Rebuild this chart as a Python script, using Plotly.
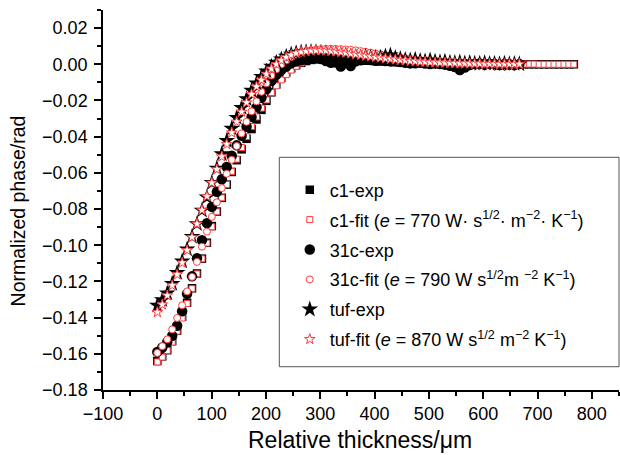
import plotly.graph_objects as go

# Relative thickness positions (µm)
THICKNESS = [0, 9.1, 18.3, 27.4, 36.5, 45.7, 54.8, 63.9, 73.0, 82.2, 91.3, 100.4, 109.6, 118.7,
             127.8, 137.0, 146.1, 155.2, 164.3, 173.5, 182.6, 191.7, 200.9, 210.0, 219.1, 228.3,
             237.4, 246.5, 255.6, 264.8, 273.9, 283.0, 292.2, 301.3, 310.4, 319.6, 328.7, 337.8,
             346.9, 356.1, 365.2, 374.3, 383.5, 392.6, 401.7, 410.9, 420.0, 429.1, 438.2, 447.4,
             456.5, 465.6, 474.8, 483.9, 493.0, 502.2, 511.3, 520.4, 529.5, 538.7, 547.8, 556.9,
             566.1, 575.2, 584.3, 593.5, 602.6, 611.7, 620.8, 630.0, 639.1, 648.2, 657.4, 666.5,
             675.6, 684.8, 693.9, 703.0, 712.1, 721.3, 730.4, 739.5, 748.7, 757.8, 766.9]

c1_exp = [-0.164, -0.1614, -0.158, -0.153, -0.1472, -0.1395, -0.1318, -0.1238, -0.1156, -0.1074,
          -0.0986, -0.0894, -0.0814, -0.0738, -0.0665, -0.0595, -0.053, -0.047, -0.0412, -0.0358,
          -0.0305, -0.0252, -0.0202, -0.0155, -0.0112, -0.0075, -0.0045, -0.0022, -0.0005, 0.0008,
          0.0018, 0.0024, 0.0028, 0.0032, 0.0035, 0.0034, 0.0032, 0.003, 0.0027, 0.0026, 0.0023,
          0.0021, 0.0022, 0.002, 0.0018, 0.0016, 0.0017, 0.0014, 0.0012, 0.0011, 0.0012, 0.0009,
          0.0008, 0.0007, 0.0006, 0.0007, 0.0005, 0.0004, 0.0003, 0.0002, 0.0001, -0.0003, 0.0,
          0.0002, 0.0001, 0.0, 0.0001, 0.0, 0.0, 0.0001, 0.0, 0.0, 0.0, 0.0, 0.0, 0.0, 0.0, 0.0,
          0.0, 0.0, 0.0, 0.0, 0.0, 0.0, 0.0]

c1_fit = [-0.1645, -0.1618, -0.1582, -0.1535, -0.1475, -0.1402, -0.1322, -0.124, -0.1158, -0.1075,
          -0.0988, -0.0898, -0.0815, -0.0738, -0.0664, -0.0592, -0.0524, -0.046, -0.04, -0.0344,
          -0.0291, -0.0242, -0.0197, -0.0156, -0.0119, -0.0086, -0.0057, -0.0032, -0.0011, 0.0007,
          0.0022, 0.0035, 0.0045, 0.0054, 0.006, 0.0065, 0.0068, 0.007, 0.007, 0.0069, 0.0067,
          0.0064, 0.006, 0.0056, 0.0052, 0.0048, 0.0044, 0.004, 0.0036, 0.0032, 0.0029, 0.0026,
          0.0023, 0.002, 0.0018, 0.0016, 0.0014, 0.0012, 0.0011, 0.0009, 0.0008, 0.0007, 0.0006,
          0.0005, 0.0004, 0.0004, 0.0003, 0.0003, 0.0002, 0.0002, 0.0002, 0.0001, 0.0001, 0.0001,
          0.0001, 0.0001, 0.0001, 0.0, 0.0, 0.0, 0.0, 0.0, 0.0, 0.0, 0.0]

c31_exp = [-0.159, -0.1565, -0.1535, -0.15, -0.1445, -0.1365, -0.1268, -0.1172, -0.1072, -0.0972,
           -0.0878, -0.0788, -0.0705, -0.0635, -0.0568, -0.0505, -0.0448, -0.0395, -0.0345, -0.0292,
           -0.0238, -0.0185, -0.0138, -0.0092, -0.0058, -0.0032, -0.0012, 0.0005, 0.0015, 0.0022,
           0.0028, 0.003, 0.0033, 0.0029, 0.0018, 0.0008, 0.001, -0.0012, 0.0012, -0.001, 0.0016,
           0.0022, 0.0025, 0.0024, 0.002, 0.0022, 0.0018, 0.0016, 0.0017, 0.0012, 0.0008, 0.0005,
           0.0006, 0.0009, 0.0004, 0.0002, 0.0004, 0.0001, -0.0002, -0.0008, -0.0015, -0.0032,
           -0.0018, -0.0004, 0.0002, 0.0005, -0.0002, 0.0003, 0.0001, -0.0004, 0.0002, 0.0, -0.0003,
           0.0001]

c31_fit = [-0.1595, -0.1558, -0.152, -0.1465, -0.1402, -0.1332, -0.1255, -0.1175, -0.1092, -0.1008,
           -0.0925, -0.0843, -0.0763, -0.0684, -0.0605, -0.0528, -0.0452, -0.0382, -0.0318, -0.026,
           -0.0205, -0.0152, -0.0105, -0.0062, -0.0028, 0.0, 0.0022, 0.004, 0.0053, 0.0063, 0.0071,
           0.0077, 0.0081, 0.0084, 0.0085, 0.0086, 0.0085, 0.0084, 0.0082, 0.008, 0.0077, 0.0073,
           0.0069, 0.0064, 0.006, 0.0055, 0.005, 0.0046, 0.0041, 0.0037, 0.0033, 0.003, 0.0026,
           0.0023, 0.002, 0.0018, 0.0016, 0.0014, 0.0012, 0.001, 0.0009, 0.0008, 0.0007, 0.0006,
           0.0005, 0.0004, 0.0003, 0.0003, 0.0002, 0.0002, 0.0002, 0.0001, 0.0001, 0.0001]

tuf_exp = [-0.1333, -0.1302, -0.1265, -0.1212, -0.1152, -0.1088, -0.1022, -0.0953, -0.0882, -0.0808,
           -0.0735, -0.0655, -0.0575, -0.0495, -0.0422, -0.0355, -0.0295, -0.024, -0.0192, -0.0145,
           -0.0105, -0.0068, -0.0038, -0.0012, 0.001, 0.0028, 0.0043, 0.0055, 0.0062, 0.0066,
           0.0068, 0.0069, 0.0068, 0.0065, 0.0062, 0.0058, 0.0055, 0.0052, 0.0048, 0.0045, 0.0042,
           0.004, 0.0043, 0.0038, 0.0035, 0.0038, 0.0045, 0.005, 0.0036, 0.003, 0.0025, 0.0022,
           0.0026, 0.002, 0.0017, 0.0022, 0.0015, 0.0012, 0.0016, 0.001, 0.0008, 0.0011, 0.0006,
           0.0009, 0.0005, 0.0004, 0.0007, 0.0003, 0.0005, 0.0002, 0.0004, 0.0001, 0.0003, 0.0001]

tuf_fit = [-0.137, -0.1328, -0.1278, -0.1222, -0.1162, -0.1097, -0.1028, -0.0956, -0.0882, -0.0806,
           -0.073, -0.0655, -0.0581, -0.051, -0.0442, -0.0378, -0.0318, -0.0263, -0.0212, -0.0166,
           -0.0124, -0.0087, -0.0054, -0.0025, 0.0, 0.0021, 0.0038, 0.0051, 0.0061, 0.0068, 0.0072,
           0.0075, 0.0076, 0.0076, 0.0075, 0.0073, 0.007, 0.0067, 0.0063, 0.0059, 0.0055, 0.0051,
           0.0047, 0.0043, 0.0039, 0.0036, 0.0032, 0.0029, 0.0026, 0.0023, 0.0021, 0.0018, 0.0016,
           0.0014, 0.0013, 0.0011, 0.001, 0.0009, 0.0008, 0.0007, 0.0006, 0.0005, 0.0004, 0.0004,
           0.0003, 0.0003, 0.0002, 0.0002, 0.0002, 0.0001, 0.0001, 0.0001, 0.0001, 0.0001]

names = [
    "c1-exp",
    "c1-fit (<i>e</i> = 770 W· s<sup>1/2</sup>· m<sup>−2</sup>· K<sup>−1</sup>)",
    "31c-exp",
    "31c-fit (<i>e</i> = 790 W s<sup>1/2</sup>m <sup>−2</sup> K<sup>−1</sup>)",
    "tuf-exp",
    "tuf-fit (<i>e</i> = 870 W s<sup>1/2</sup> m<sup>−2</sup> K<sup>−1</sup>)",
]

RED = "#ff3b3b"
series = [
    (c1_exp, dict(symbol="square", size=8.5, color="black", line=dict(width=0))),
    (c1_fit, dict(symbol="square", size=6, color="white", line=dict(width=1, color=RED))),
    (c31_exp, dict(symbol="circle", size=10.5, color="black", line=dict(width=0))),
    (c31_fit, dict(symbol="circle", size=7, color="white", line=dict(width=1, color=RED))),
    (tuf_exp, dict(symbol="star", size=12.5, color="black", line=dict(width=0))),
    (tuf_fit, dict(symbol="star", size=8, color="white", line=dict(width=1, color=RED))),
]

fig = go.Figure()
for (ys, mk), nm in zip(series, names):
    fig.add_trace(go.Scatter(x=THICKNESS[:len(ys)], y=ys, mode="markers", name=nm, marker=mk,
                             legendgroup=nm))

FONT = "Liberation Sans, Arial, Helvetica, sans-serif"
fig.update_layout(
    width=620, height=455,
    margin=dict(l=103, r=1, t=10, b=65),
    paper_bgcolor="white", plot_bgcolor="white",
    font=dict(family=FONT, size=18, color="black"),
    legend=dict(x=0.362, y=0.575, xanchor="left", yanchor="top", bgcolor="rgba(0,0,0,0)",
                borderwidth=0, font=dict(size=18), tracegroupgap=3.5, traceorder="grouped"),
    xaxis=dict(range=[-100, 850], dtick=100, tick0=0, showgrid=False, zeroline=False,
               showline=True, linecolor="black", linewidth=1.5, ticks="outside", ticklen=7,
               tickwidth=1.5, tickcolor="black", tickfont=dict(size=18),
               minor=dict(dtick=50, tick0=0, ticklen=4, tickwidth=1.5, tickcolor="black", ticks="outside")),
    yaxis=dict(range=[-0.18, 0.03], dtick=0.02, tick0=0, tickformat=".2f", showgrid=False,
               zeroline=False, showline=True, linecolor="black", linewidth=1.5, ticks="outside",
               ticklen=7, tickwidth=1.5, tickcolor="black", tickfont=dict(size=18),
               ticklabelstandoff=3,
               minor=dict(dtick=0.01, tick0=0, ticklen=4, tickwidth=1.5, tickcolor="black", ticks="outside")),
    shapes=[dict(type="rect", xref="paper", yref="paper", x0=0.3417, x1=1.0, y0=0.0613, y1=0.6124,
                 line=dict(color="#555555", width=1))],
    annotations=[
        dict(text="Relative thickness/μm", xref="paper", yref="paper", x=0.498, y=-0.1316,
             xanchor="center", yanchor="middle", showarrow=False, font=dict(size=23)),
        dict(text="Normalized phase/rad", xref="paper", yref="paper", x=-0.1647, y=0.47,
             xanchor="center", yanchor="middle", textangle=-90, showarrow=False, font=dict(size=19.5)),
    ],
)

fig.write_html("out.html")
